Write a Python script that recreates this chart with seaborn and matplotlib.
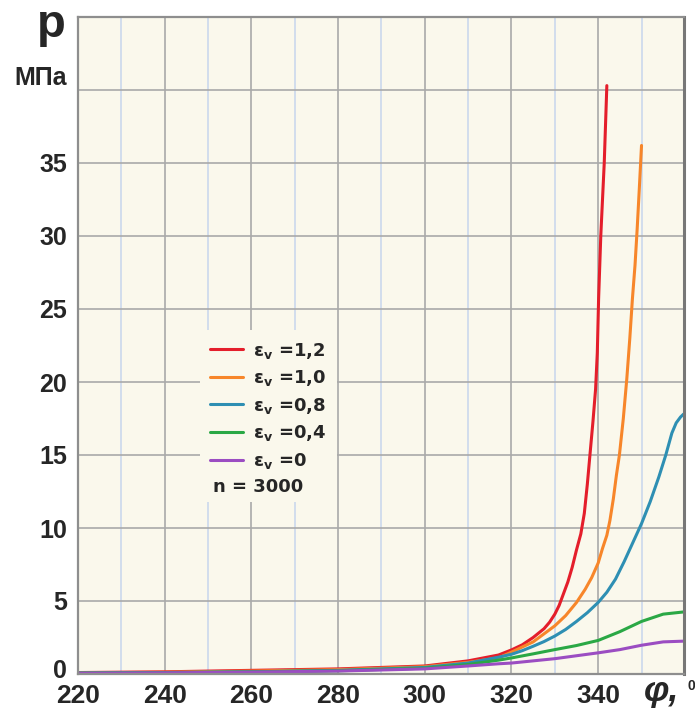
import matplotlib
matplotlib.use("Agg")
import matplotlib.pyplot as plt
import matplotlib.transforms as mtransforms
import seaborn as sns
import pandas as pd

# =========================
# DATA
# =========================
phi_12 = [220, 240, 260, 280, 290, 300, 310, 317, 320, 322.5, 325, 327.5, 328.8, 330, 331, 332, 333, 334, 335,
          336, 336.8, 337.5, 338.1, 338.8, 339.4, 339.8, 340.1, 340.6, 341.4, 342.0]
p_12 = [0.1, 0.15, 0.25, 0.35, 0.45, 0.55, 0.9, 1.3, 1.65, 2.0, 2.5, 3.1, 3.55, 4.1, 4.7, 5.5, 6.3, 7.3, 8.5,
        9.6, 11.0, 13.0, 15.0, 17.3, 19.5, 22.0, 25.7, 30.0, 35.0, 40.3]

phi_10 = [220, 240, 260, 280, 300, 310, 317, 320, 325, 330, 332.5, 335, 337, 338.5, 340, 341, 342,
          342.7, 343.5, 344.2, 344.9, 345.8, 346.6, 347.3, 347.9, 348.5, 349, 349.5, 350.0]
p_10 = [0.08, 0.12, 0.2, 0.3, 0.5, 0.8, 1.1, 1.5, 2.2, 3.3, 4.0, 4.9, 5.8, 6.6, 7.6, 8.6, 9.5,
        10.5, 12.0, 13.6, 15.0, 17.5, 20.2, 23.0, 25.7, 28.0, 30.5, 33.3, 36.2]

phi_08 = [220, 240, 260, 280, 300, 310, 317, 320, 322.5, 325, 327.5, 330, 332.5, 335, 337.5, 340, 342,
          344, 346, 348, 350, 352, 354, 355.6, 357, 358, 359, 359.7]
p_08 = [0.07, 0.1, 0.15, 0.25, 0.45, 0.75, 1.15, 1.35, 1.6, 1.9, 2.22, 2.6, 3.05, 3.6, 4.2, 4.9, 5.6,
        6.5, 7.7, 9.0, 10.3, 11.8, 13.5, 15.0, 16.5, 17.2, 17.6, 17.8]

phi_04 = [220, 240, 260, 280, 300, 310, 317, 320, 325, 330, 335, 340, 345, 350, 355, 359.7]
p_04 = [0.05, 0.08, 0.15, 0.22, 0.4, 0.65, 0.95, 1.1, 1.38, 1.67, 1.95, 2.3, 2.9, 3.6, 4.1, 4.25]

phi_0 = [220, 240, 260, 280, 300, 310, 317, 320, 325, 330, 335, 340, 345, 350, 355, 359.7]
p_0 = [0.05, 0.08, 0.13, 0.2, 0.35, 0.55, 0.7, 0.75, 0.9, 1.05, 1.25, 1.45, 1.67, 1.97, 2.2, 2.25]

labels = ["ε$_\\mathbf{v}$ =1,2", "ε$_\\mathbf{v}$ =1,0", "ε$_\\mathbf{v}$ =0,8",
          "ε$_\\mathbf{v}$ =0,4", "ε$_\\mathbf{v}$ =0"]
colors = ["#e41e2b", "#f7862a", "#2e8fb3", "#2aa845", "#9b4dc2"]

x_ticks = [220, 240, 260, 280, 300, 320, 340]
y_ticks = [0, 5, 10, 15, 20, 25, 30, 35, 40, 45]
y_ticklabels = ["0", "5", "10", "15", "20", "25", "30", "35", "", ""]

# long table for seaborn
frames = []
for lab, phi, p in zip(labels, [phi_12, phi_10, phi_08, phi_04, phi_0], [p_12, p_10, p_08, p_04, p_0]):
    frames.append(pd.DataFrame({"phi": phi, "p": p, "eps": lab}))
df = pd.concat(frames, ignore_index=True)

# =========================
# STYLE
# =========================
sns.set_style("white")
plt.rcParams["font.family"] = ["Liberation Sans", "DejaVu Sans"]
plt.rcParams["mathtext.fontset"] = "dejavusans"

bg = "#faf8ec"
grid_gray = "#a9a9a9"
spine_gray = "#8e8e8e"

fig = plt.figure(figsize=(6.95, 7.15), dpi=100)
ax = fig.add_axes([78 / 695, 41 / 715, 606 / 695, 657 / 715])
ax.set_facecolor(bg)
ax.set_axisbelow(True)

sns.lineplot(data=df, x="phi", y="p", hue="eps", palette=dict(zip(labels, colors)),
             estimator=None, sort=False, linewidth=2.2, ax=ax)

ax.set_xlim(220, 359.8)
ax.set_ylim(0, 45)
ax.set_xlabel("")
ax.set_ylabel("")

# grid
ax.set_xticks(x_ticks)
ax.set_xticks(range(230, 360, 20), minor=True)
ax.set_yticks(y_ticks)
ax.grid(which="major", color=grid_gray, linewidth=1.2)
ax.grid(which="minor", axis="x", color="#cbd8ec", linewidth=1.2)

ax.set_xticklabels([str(t) for t in x_ticks], fontweight="bold")
ax.set_yticklabels(y_ticklabels, fontweight="bold")
ax.tick_params(axis="y", length=5, width=1.2, color=spine_gray, pad=3, labelsize=18)
ax.tick_params(axis="x", which="major", length=3, width=1.2, color=spine_gray, pad=4, labelsize=19)
ax.tick_params(axis="x", which="minor", length=0)

# "0" sits a little above the zero line, clear of "220"
zero_lab = ax.get_yticklabels()[0]
zero_lab.set_transform(zero_lab.get_transform() + mtransforms.ScaledTranslation(0, 6 / 100, fig.dpi_scale_trans))

for side in ["left", "bottom", "top"]:
    ax.spines[side].set_color(spine_gray)
    ax.spines[side].set_linewidth(1.6)
ax.spines["right"].set_color("#777777")
ax.spines["right"].set_linewidth(2.2)

# legend
handles, labs = ax.get_legend_handles_labels()
ax.legend(handles, labs, loc="upper left", bbox_to_anchor=(0.2005, 0.524), borderaxespad=0,
          frameon=True, facecolor=bg, edgecolor="none", framealpha=1, fancybox=False,
          prop=dict(family="DejaVu Sans", weight="bold", size=13), handlelength=1.8,
          handletextpad=0.55, labelspacing=0.42, borderpad=0.6)
ax.text(0.2228, 0.2846, "n = 3000", transform=ax.transAxes, fontsize=13, fontweight="bold",
        family="DejaVu Sans", ha="left", va="center", zorder=10,
        bbox=dict(fc=bg, ec="none", pad=4))

# axis titles
fig.text(51 / 695, 1 - 37 / 715, "p", fontsize=34, fontweight="bold", ha="center", va="baseline")
fig.text(67 / 695, 1 - 85 / 715, "МПа", fontsize=18, fontweight="bold", ha="right", va="baseline")
fig.text(644 / 695, 1 - 701 / 715, "φ,", fontsize=26, fontweight="bold", fontstyle="italic",
         ha="left", va="baseline")
fig.text(687 / 695, 1 - 690 / 715, "0", fontsize=10, fontweight="bold", ha="left", va="baseline")

fig.savefig("out.png", dpi=100, facecolor="white")
